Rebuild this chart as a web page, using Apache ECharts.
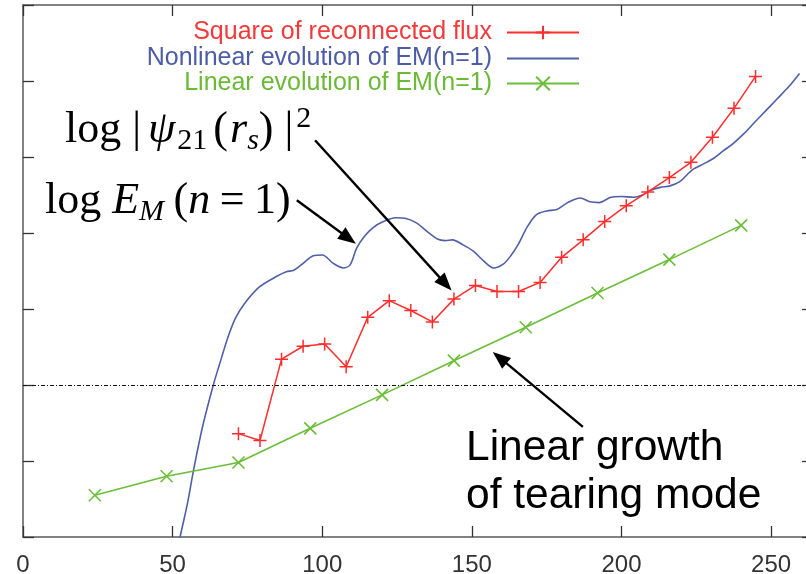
<!DOCTYPE html>
<html>
<head>
<meta charset="utf-8">
<script src="https://cdn.jsdelivr.net/npm/echarts@6/dist/echarts.min.js"></script>
<style>
  html, body { margin: 0; padding: 0; background: #fff; }
  #chart { width: 806px; height: 574px; }
</style>
</head>
<body>
<div id="chart"></div>
<script>
// Square of reconnected flux, log|psi_21(r_s)|^2, sampled every 7.2 time units
const fluxTime = [72, 79.2, 86.4, 93.6, 100.8, 108, 115.2, 122.4, 129.6, 136.8, 144, 151.2, 158.4,
  165.6, 172.8, 180, 187.2, 194.4, 201.6, 208.8, 216, 223.2, 230.4, 237.6, 244.8];
const fluxLog = [1.36, 1.27, 2.34, 2.51, 2.54, 2.24, 2.89, 3.11, 2.98, 2.83, 3.13, 3.31, 3.23,
  3.23, 3.35, 3.68, 3.91, 4.15, 4.36, 4.54, 4.73, 4.93, 5.26, 5.64, 6.06];

// Nonlinear evolution of E_M (n=1)
const emTime = [51, 52.5, 55, 57, 60, 63.6, 65.5, 68.6, 71, 74, 79, 84.8, 88, 90.5, 93, 97, 100,
  103.7, 107, 109.3, 111.5, 114, 117, 120.4, 124.5, 128, 131.6, 135, 138.5, 141, 143.5, 147.2,
  150.5, 154, 157.2, 160.5, 163, 165.5, 168.5, 171.5, 175, 178.4, 182, 186.2, 189.5, 192.5,
  196.5, 200, 204, 207, 209.6, 213, 216.2, 219.6, 222, 224, 227.5, 230.7, 234, 237.4, 241,
  244.1, 248, 251.9, 256, 259.5];
const emLog = [-0.3, 0, 0.45, 0.88, 1.45, 2.0, 2.25, 2.64, 2.88, 3.07, 3.29, 3.43, 3.49, 3.51,
  3.58, 3.70, 3.71, 3.60, 3.54, 3.58, 3.80, 3.95, 4.07, 4.15, 4.20, 4.19, 4.13, 4.02, 3.92,
  3.90, 3.91, 3.84, 3.76, 3.63, 3.54, 3.59, 3.70, 3.85, 4.08, 4.24, 4.29, 4.31, 4.40, 4.46,
  4.41, 4.40, 4.47, 4.48, 4.47, 4.50, 4.56, 4.60, 4.62, 4.68, 4.77, 4.84, 4.91, 4.98, 5.08,
  5.18, 5.31, 5.44, 5.60, 5.76, 5.93, 6.10];

// Linear evolution of E_M (n=1)
const linearTime = [24, 48, 72, 96, 120, 144, 168, 192, 216, 240];
const linearLog = [0.55, 0.80, 0.98, 1.43, 1.87, 2.32, 2.76, 3.21, 3.65, 4.10];

// Axis ranges and tick steps
const xRange = [0, 264];
const xStep = 50;
const yRange = [0, 7];
const yStep = 1;
const referenceLevel = 2;

// Annotation arrows (tail, head) in data units
const arrowPsi = [[97.6, 5.22], [141.2, 3.33]];
const arrowEm = [[91.5, 4.43], [108.8, 3.93]];
const arrowTearing = [[187.1, 1.45], [159.3, 2.36]];

const names = {
  flux: 'Square of reconnected flux',
  nonlinear: 'Nonlinear evolution of EM(n=1)',
  linear: 'Linear evolution of EM(n=1)'
};
const colors = { flux: '#ff2d2d', nonlinear: '#4f5fa8', linear: '#6cbd38' };
const textColors = { flux: '#f23a3a', nonlinear: '#4c5ca6', linear: '#6aba36' };

const zip = (xs, ys) => xs.map((x, i) => [x, ys[i]]);
const plusSymbol = 'path://M0,5L10,5M5,0L5,10';
const crossSymbol = 'path://M0,0L10,10M0,10L10,0';
const sans = '"Liberation Sans", Arial, Helvetica, sans-serif';
const serif = '"Liberation Serif", "Times New Roman", serif';

function axisBase(position, showLabel) {
  return {
    type: 'value',
    position: position,
    axisLine: { show: true, onZero: false, lineStyle: { color: '#5a5a5a', width: 1.5 } },
    axisTick: { show: true, inside: true, length: 11, lineStyle: { color: '#333', width: 1.3 } },
    axisLabel: showLabel
      ? { show: true, fontSize: 24, fontFamily: sans, color: '#333', margin: 16, showMaxLabel: false }
      : { show: false },
    splitLine: { show: false }
  };
}

function legendFor(key, top) {
  const name = names[key];
  return {
    data: [key === 'nonlinear' ? { name: name, itemStyle: { opacity: 0 } } : name],
    orient: 'horizontal',
    align: 'right',
    right: 226,
    top: top,
    padding: 0,
    itemWidth: 72,
    itemHeight: 17,
    selectedMode: false,
    textStyle: { fontSize: 25, fontFamily: sans, color: textColors[key], padding: [0, 10, 0, 0] }
  };
}

const chart = echarts.init(document.getElementById('chart'), null, { renderer: 'canvas' });

chart.setOption({
  animation: false,
  backgroundColor: '#fff',
  grid: { left: 23, right: -7, top: 5, bottom: 37, outerBoundsMode: 'none', containLabel: false },
  xAxis: [
    Object.assign(axisBase('bottom', true), { min: xRange[0], max: xRange[1], interval: xStep }),
    Object.assign(axisBase('top', false), { min: xRange[0], max: xRange[1], interval: xStep })
  ],
  yAxis: [
    Object.assign(axisBase('left', false), { min: yRange[0], max: yRange[1], interval: yStep }),
    Object.assign(axisBase('right', false), { min: yRange[0], max: yRange[1], interval: yStep })
  ],
  legend: [
    legendFor('flux', 20),
    legendFor('nonlinear', 46),
    legendFor('linear', 71)
  ],
  series: [
    {
      name: names.flux,
      type: 'line',
      data: zip(fluxTime, fluxLog),
      symbol: plusSymbol,
      symbolSize: 13,
      showAllSymbol: true,
      lineStyle: { color: colors.flux, width: 1.5 },
      itemStyle: { color: colors.flux, borderColor: colors.flux, borderWidth: 1.5 },
      emphasis: { disabled: true },
      z: 4
    },
    {
      name: names.nonlinear,
      type: 'line',
      data: zip(emTime, emLog),
      symbol: 'none',
      smooth: 0.3,
      lineStyle: { color: colors.nonlinear, width: 1.6 },
      itemStyle: { color: colors.nonlinear },
      emphasis: { disabled: true },
      z: 3
    },
    {
      name: names.linear,
      type: 'line',
      data: zip(linearTime, linearLog),
      symbol: crossSymbol,
      symbolSize: 12,
      showAllSymbol: true,
      lineStyle: { color: colors.linear, width: 1.6 },
      itemStyle: { color: colors.linear, borderColor: colors.linear, borderWidth: 1.6 },
      emphasis: { disabled: true },
      z: 3
    },
    {
      // dash-dot reference level
      name: 'reference',
      type: 'line',
      data: [],
      silent: true,
      markLine: {
        silent: true,
        symbol: 'none',
        label: { show: false },
        emphasis: { disabled: true },
        lineStyle: { color: '#111', width: 1, type: [4, 2, 1, 2] },
        data: [{ yAxis: referenceLevel }]
      }
    },
    {
      // annotation arrows
      name: 'arrows',
      type: 'line',
      data: [],
      silent: true,
      markLine: {
        silent: true,
        symbol: ['none', 'triangle'],
        symbolSize: [14, 18],
        label: { show: false },
        emphasis: { disabled: true },
        lineStyle: { color: '#000', width: 2.4, type: 'solid' },
        itemStyle: { color: '#000' },
        data: [arrowPsi, arrowEm, arrowTearing].map(a => [{ coord: a[0] }, { coord: a[1] }])
      }
    }
  ],
  graphic: [
    {
      type: 'text', x: 65, y: 104, silent: true, z: 50,
      style: {
        text: '{m|log |}{gi|ψ}{sub|21}{m|(}{ri|r}{subi|s}{m|) |}{sup|2}',
        fill: '#000',
        verticalAlign: 'top',
        rich: {
          m: { font: '44px ' + serif, lineHeight: 52, fill: '#000' },
          gi: { font: 'italic 44px ' + serif, lineHeight: 52, fill: '#000', padding: [0, 0, 0, 7] },
          ri: { font: 'italic 44px ' + serif, lineHeight: 52, fill: '#000', padding: [0, 0, 0, 2] },
          sub: { font: '30px ' + serif, lineHeight: 14, verticalAlign: 'bottom', fill: '#000', padding: [0, 6, 0, 2] },
          subi: { font: 'italic 30px ' + serif, lineHeight: 14, verticalAlign: 'bottom', fill: '#000' },
          sup: { font: '30px ' + serif, lineHeight: 45, verticalAlign: 'top', fill: '#000', padding: [0, 0, 0, 3] }
        }
      }
    },
    {
      type: 'text', x: 45, y: 175, silent: true, z: 50,
      style: {
        text: '{m|log }{i|E}{subi|M}{sp| }{m|(}{i|n}{sp| }{m|=}{sp| }{m|1)}',
        fill: '#000',
        verticalAlign: 'top',
        rich: {
          m: { font: '44px ' + serif, lineHeight: 52, fill: '#000' },
          sp: { font: '38px ' + serif, lineHeight: 52, fill: '#000' },
          i: { font: 'italic 44px ' + serif, lineHeight: 52, fill: '#000' },
          subi: { font: 'italic 30px ' + serif, lineHeight: 20, verticalAlign: 'bottom', fill: '#000' }
        }
      }
    },
    {
      type: 'text', x: 466, y: 424, silent: true, z: 50,
      style: {
        text: 'Linear growth\nof tearing mode',
        font: '42.5px ' + sans,
        lineHeight: 48.5,
        fill: '#000',
        verticalAlign: 'top'
      }
    }
  ]
});
</script>
</body>
</html>
